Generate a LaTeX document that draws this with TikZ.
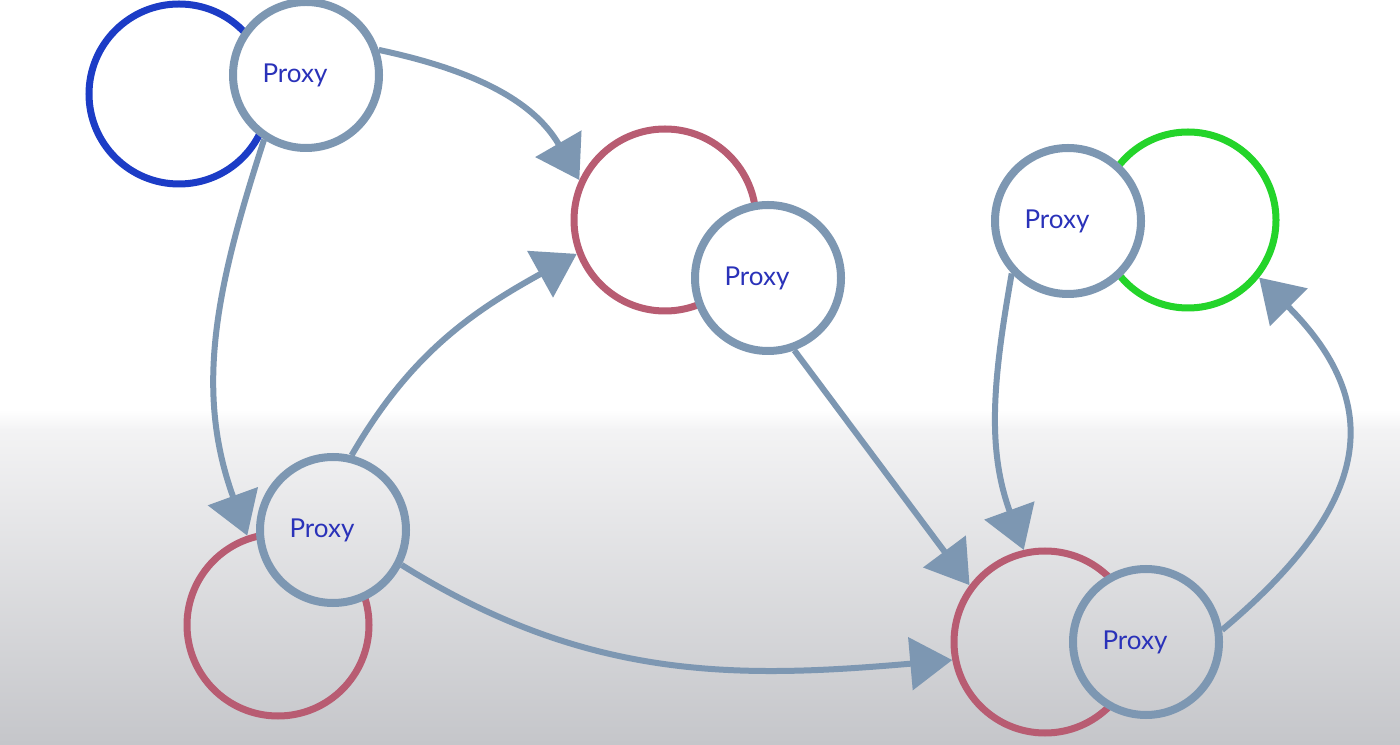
\documentclass[tikz,border=0pt]{standalone}
\usepackage{fontspec}
\newfontfamily\handfont{Lato}
\usetikzlibrary{arrows.meta}

\definecolor{proxyc}{RGB}{125,151,178}
\definecolor{svcblue}{RGB}{28,60,198}
\definecolor{svcred}{RGB}{184,92,114}
\definecolor{svcgreen}{RGB}{36,212,42}
\definecolor{labelc}{RGB}{42,50,185}
\definecolor{bgtop}{RGB}{243,243,244}
\definecolor{bgbot}{RGB}{197,198,202}

\pgfdeclarelayer{bg}
\pgfdeclarelayer{svc}
\pgfdeclarelayer{links}
\pgfdeclarelayer{cover}
\pgfsetlayers{bg,svc,links,cover,main}

% white page fading into grey towards the bottom
\newcommand\paintbackdrop{%
  \fill[white] (0,0) rectangle (1400,744);
  \shade[top color=white, bottom color=bgtop] (0,314) rectangle (1400,334);
  \shade[top color=bgtop, bottom color=bgbot] (0,0) rectangle (1400,314.5);
}

\begin{document}
\begin{tikzpicture}[x=0.5mm, y=0.5mm,
  svc/.style={circle, draw=#1, line width=3.5mm, minimum size=91mm, inner sep=0pt},
  proxy/.style={circle, draw=proxyc, line width=4mm, minimum size=73mm, inner sep=0pt,
    font=\handfont\fontsize{37}{44}\selectfont, text=labelc,
    execute at begin node={\hspace*{-11mm}}},
  link/.style={draw=proxyc, line width=3mm, -{Triangle[length=21mm, width=26mm]}}]

\useasboundingbox (0,0) rectangle (1400,744);

\begin{pgfonlayer}{bg}
  \paintbackdrop
\end{pgfonlayer}

% services
\begin{pgfonlayer}{svc}
  \node[svc=svcblue, minimum size=90mm] (s1) at (179,650) {};
  \node[svc=svcred]                      (s2) at (665,524) {};
  \node[svc=svcgreen, minimum size=88mm] (s3) at (1188,524) {};
  \node[svc=svcred]                      (s4) at (278,119) {};
  \node[svc=svcred]                      (s5) at (1045,102) {};
\end{pgfonlayer}

% sidecar proxies
\node[proxy] (p1) at (306,669) {Proxy};
\node[proxy] (p2) at (768,466) {Proxy};
\node[proxy] (p3) at (1068,523) {Proxy};
\node[proxy] (p4) at (333,214) {Proxy};
\node[proxy] (p5) at (1146,102) {Proxy};

% traffic between proxies and services
\begin{pgfonlayer}{links}
  \draw[link] (p1.19)  to[out=-12, in=120] (s2.155);
  \draw[link] (p4.76)  to[out=60, in=209]  (s2.201);
  \draw[link] (p1.237) to[out=252, in=110] (s4.109);
  \draw[link] (p2.-70) -- (s5.143);
  \draw[link] (p4.-27) to[out=-32, in=185] (s5.191);
  \draw[link] (p3.223) to[out=-100, in=110] (s5.103);
  \draw[link] (p5.9)   to[out=40, in=-45, looseness=1.35] (s3.-39);
\end{pgfonlayer}

% proxy discs hide whatever lies beneath them
\begin{pgfonlayer}{cover}
  \foreach \p in {p1,p2,p3,p4,p5}{
    \begin{scope}
      \clip (\p.center) circle[radius=73];
      \paintbackdrop
    \end{scope}
  }
\end{pgfonlayer}
\end{tikzpicture}
\end{document}
